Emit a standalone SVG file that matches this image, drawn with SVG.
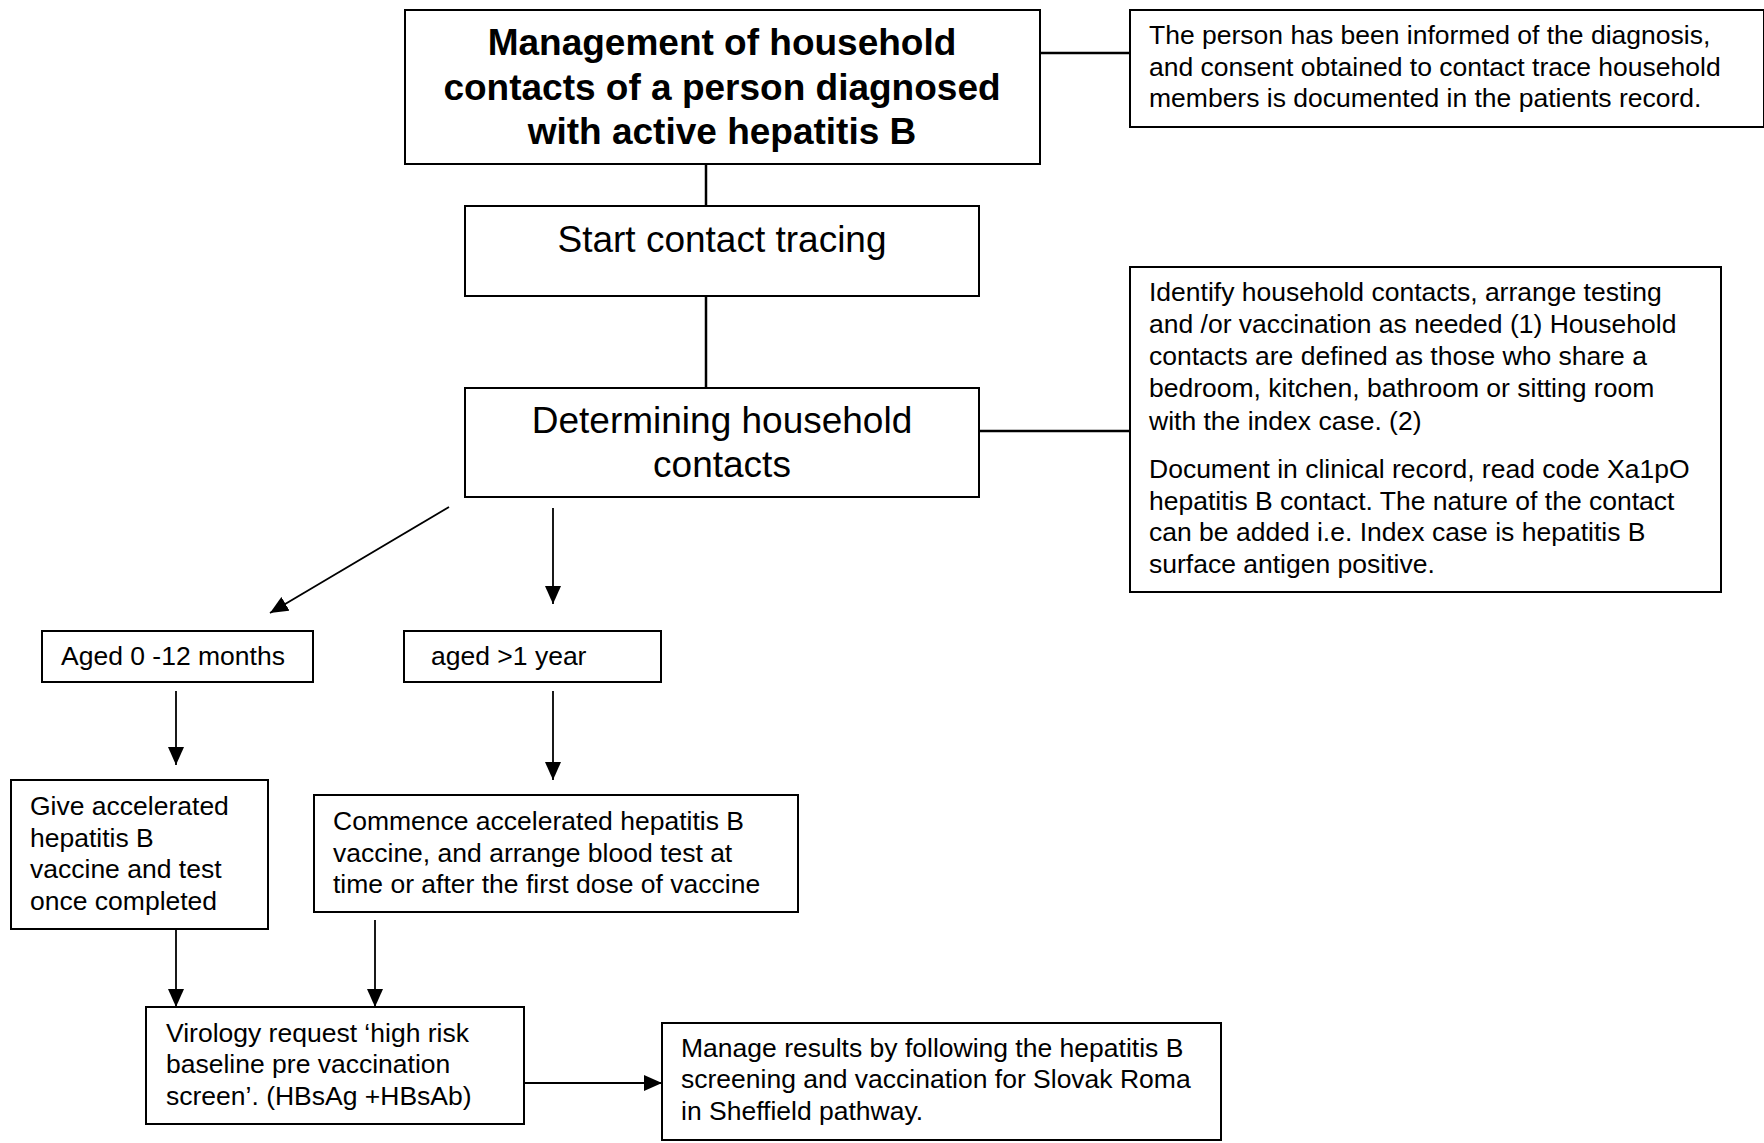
<svg xmlns="http://www.w3.org/2000/svg" width="1764" height="1143" viewBox="0 0 1764 1143">
<style>
.box{fill:#fff;stroke:#000;stroke-width:2}
.t{font-family:"Liberation Sans",Arial,sans-serif;font-size:26.5px;fill:#000}
.big{font-family:"Liberation Sans",Arial,sans-serif;font-size:37px;fill:#000;text-anchor:middle}
.bold{font-weight:bold}
.ln{stroke:#000;stroke-width:2.5;fill:none}
.ar{stroke:#000;stroke-width:1.8;fill:none;marker-end:url(#ah)}
</style>
<defs>
<marker id="ah" viewBox="0 0 18 16" refX="18" refY="8" markerWidth="18" markerHeight="16" markerUnits="userSpaceOnUse" orient="auto">
<path d="M0,0 L18,8 L0,16 Z" fill="#000"/>
</marker>
</defs>
<rect width="1764" height="1143" fill="#fff"/>
<g id="connectors">
<line class="ln" x1="1040" y1="53" x2="1130" y2="53"/>
<line class="ln" x1="706" y1="164" x2="706" y2="206"/>
<line class="ln" x1="706" y1="296" x2="706" y2="388"/>
<line class="ln" x1="979" y1="431" x2="1130" y2="431"/>
<line class="ar" x1="449" y1="507" x2="270" y2="613"/>
<line class="ar" x1="553" y1="508" x2="553" y2="604"/>
<line class="ar" x1="176" y1="691" x2="176" y2="765"/>
<line class="ar" x1="553" y1="691" x2="553" y2="780"/>
<line class="ar" x1="176" y1="929" x2="176" y2="1007"/>
<line class="ar" x1="375" y1="920" x2="375" y2="1007"/>
<line class="ar" x1="524" y1="1083" x2="662" y2="1083"/>
</g>
<g id="title">
<rect class="box" x="405" y="10" width="635" height="154"/>
<text class="big bold" x="722" y="55">Management of household</text>
<text class="big bold" x="722" y="100">contacts of a person diagnosed</text>
<text class="big bold" x="722" y="144">with active hepatitis B</text>
</g>
<g id="note1">
<rect class="box" x="1130" y="10" width="634" height="117"/>
<text class="t" x="1149" y="44">The person has been informed of the diagnosis,</text>
<text class="t" x="1149" y="76">and consent obtained to contact trace household</text>
<text class="t" x="1149" y="107">members is documented in the patients record.</text>
</g>
<g id="start">
<rect class="box" x="465" y="206" width="514" height="90"/>
<text class="big" x="722" y="252">Start contact tracing</text>
</g>
<g id="determining">
<rect class="box" x="465" y="388" width="514" height="109"/>
<text class="big" x="722" y="433">Determining household</text>
<text class="big" x="722" y="477">contacts</text>
</g>
<g id="note2">
<rect class="box" x="1130" y="267" width="591" height="325"/>
<text class="t" x="1149" y="301">Identify household contacts, arrange testing</text>
<text class="t" x="1149" y="333">and /or vaccination as needed (1) Household</text>
<text class="t" x="1149" y="365">contacts are defined as those who share a</text>
<text class="t" x="1149" y="397">bedroom, kitchen, bathroom or sitting room</text>
<text class="t" x="1149" y="430">with the index case. (2)</text>
<text class="t" x="1149" y="478">Document in clinical record, read code Xa1pO</text>
<text class="t" x="1149" y="510">hepatitis B contact. The nature of the contact</text>
<text class="t" x="1149" y="541">can be added i.e. Index case is hepatitis B</text>
<text class="t" x="1149" y="573">surface antigen positive.</text>
</g>
<g id="aged0">
<rect class="box" x="42" y="631" width="271" height="51"/>
<text class="t" x="61" y="665">Aged 0 -12 months</text>
</g>
<g id="aged1">
<rect class="box" x="404" y="631" width="257" height="51"/>
<text class="t" x="431" y="665">aged &gt;1 year</text>
</g>
<g id="give">
<rect class="box" x="11" y="780" width="257" height="149"/>
<text class="t" x="30" y="815">Give accelerated</text>
<text class="t" x="30" y="847">hepatitis B</text>
<text class="t" x="30" y="878">vaccine and test</text>
<text class="t" x="30" y="910">once completed</text>
</g>
<g id="commence">
<rect class="box" x="314" y="795" width="484" height="117"/>
<text class="t" x="333" y="830">Commence accelerated hepatitis B</text>
<text class="t" x="333" y="862">vaccine, and arrange blood test at</text>
<text class="t" x="333" y="893">time or after the first dose of vaccine</text>
</g>
<g id="virology">
<rect class="box" x="146" y="1007" width="378" height="117"/>
<text class="t" x="166" y="1042">Virology request ‘high risk</text>
<text class="t" x="166" y="1073">baseline pre vaccination</text>
<text class="t" x="166" y="1105">screen’. (HBsAg +HBsAb)</text>
</g>
<g id="manage">
<rect class="box" x="662" y="1023" width="559" height="117"/>
<text class="t" x="681" y="1057">Manage results by following the hepatitis B</text>
<text class="t" x="681" y="1088">screening and vaccination for Slovak Roma</text>
<text class="t" x="681" y="1120">in Sheffield pathway.</text>
</g>
</svg>
